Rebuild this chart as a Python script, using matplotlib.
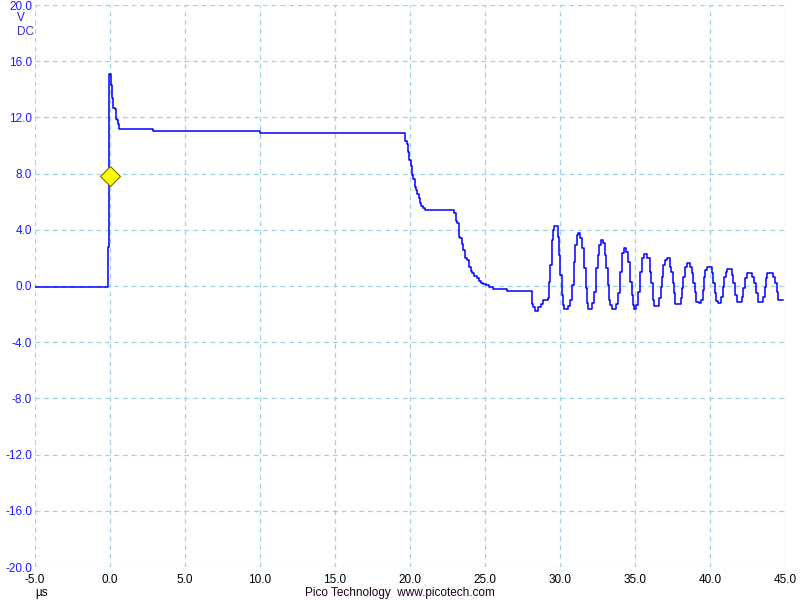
import matplotlib.pyplot as plt
import numpy as np

plt.rcParams['font.family'] = ['Liberation Sans', 'DejaVu Sans']

# trace points (time in us, volts), drawn as steps
t_us = [
    -5.0, -0.13, -0.05, 0.09, 0.15, 0.20, 0.35, 0.38, 0.45, 0.53, 0.58,
    2.87, 10.0, 19.69, 19.78, 19.87, 19.95, 20.05, 20.11, 20.22, 20.31,
    20.40, 20.49, 20.58, 20.67, 20.75, 20.85, 21.02, 22.93, 23.05, 23.15,
    23.25, 23.35, 23.45, 23.55, 23.69, 23.78, 23.91, 24.05, 24.13, 24.27,
    24.45, 24.58, 24.71, 24.89, 25.07, 25.25, 25.55, 26.45, 26.89,
    # ringing
    28.16, 28.22, 28.33, 28.56, 28.73, 28.89, 29.18, 29.27, 29.36, 29.44,
    29.53, 29.62, 29.84, 29.93, 30.02, 30.11, 30.20, 30.29, 30.51, 30.64,
    30.78, 30.91, 31.00, 31.13, 31.22, 31.36, 31.49, 31.62, 31.71, 31.80,
    31.89, 32.16, 32.29, 32.42, 32.51, 32.60, 32.73, 32.87, 33.00, 33.09,
    33.18, 33.27, 33.36, 33.44, 33.71, 33.84, 33.98, 34.11, 34.24, 34.38,
    34.51, 34.64, 34.78, 34.87, 34.96, 35.09, 35.22, 35.36, 35.49, 35.62,
    35.80, 35.98, 36.09, 36.18, 36.29, 36.58, 36.71, 36.80, 36.89, 36.98,
    37.11, 37.33, 37.42, 37.51, 37.60, 37.69, 38.04, 38.13, 38.22, 38.31,
    38.44, 38.67, 38.80, 38.89, 38.98, 39.07, 39.24, 39.42, 39.51, 39.60,
    39.69, 39.82, 40.13, 40.22, 40.31, 40.40, 40.53, 40.76, 40.84, 40.93,
    41.07, 41.16, 41.47, 41.56, 41.69, 41.82, 42.13, 42.22, 42.36, 42.44,
    42.80, 42.93, 43.07, 43.20, 43.51, 43.64, 43.73, 43.82, 44.18, 44.31,
    44.44, 44.53, 44.89,
]
v_volts = [
    -0.05, 2.8, 15.1, 14.3, 13.4, 12.7, 12.6, 11.9, 11.8, 11.5, 11.15,
    11.05, 10.87, 10.3, 10.1, 9.56, 8.97, 8.54, 7.9, 7.6, 7.07,
    6.83, 6.55, 6.24, 5.93, 5.7, 5.53, 5.4, 5.22, 4.65, 4.46,
    3.51, 3.39, 2.99, 2.56, 2.0, 1.85, 1.37, 1.09, 0.95, 0.71,
    0.57, 0.38, 0.23, 0.14, 0.05, -0.09, -0.23, -0.33, -0.38,
    -1.3, -1.5, -1.78, -1.47, -1.3, -1.0, -0.83, 0.31, 1.49, 3.27,
    3.99, 4.29, 3.51, 2.2, 0.78, -0.64, -1.35, -1.64, -1.4, -1.0,
    0.07, 1.73, 2.92, 3.63, 3.75, 3.4, 2.68, 1.26, -0.16, -1.23,
    -1.64, -1.23, -0.4, 1.26, 2.2, 2.92, 3.27, 3.03, 2.2, 1.26,
    0.07, -0.99, -1.35, -1.64, -1.3, -0.52, 1.02, 2.32, 2.73, 2.44,
    1.73, 0.31, -0.64, -1.35, -1.64, -1.35, -0.4, 1.02, 1.97, 2.26,
    1.97, 1.02, 0.19, -1.0, -1.42, -0.88, -0.05, 0.66, 1.5, 1.85,
    1.97, 1.38, 1.02, 0.19, -0.52, -1.28, -0.88, -0.17, 0.66, 1.38,
    1.66, 1.38, 0.9, 0.19, -0.4, -1.12, -1.23, -1.0, -0.28, 0.66,
    1.14, 1.33, 0.9, 0.19, -0.52, -1.04, -1.19, -0.76, -0.05, 0.66,
    1.02, 1.19, 0.78, 0.19, -0.64, -1.12, -0.76, -0.17, 0.54, 0.95,
    0.66, 0.19, -0.52, -1.12, -0.76, -0.05, 0.54, 0.9, 0.66, 0.19,
    -0.4, -0.99, -0.99,
]

trig_t = 0.0
trig_v = 7.8

x_ticks = [-5.0, 0.0, 5.0, 10.0, 15.0, 20.0, 25.0, 30.0, 35.0, 40.0, 45.0]
y_ticks = [-20.0, -16.0, -12.0, -8.0, -4.0, 0.0, 4.0, 8.0, 12.0, 16.0, 20.0]

fig = plt.figure(figsize=(8, 6), dpi=100)
ax = fig.add_axes([35 / 800, 33 / 600, 750 / 800, 562 / 600])
ax.set_xlim(-5, 45)
ax.set_ylim(-20, 20)

# scope style grid: blue dashes with cyan dots in the gaps
for yv in y_ticks:
    ax.axhline(yv, color='#a9cbdc', lw=0.9, ls=(0, (3, 4)), zorder=1)
    ax.axhline(yv, color='#92e6ec', lw=0.9, ls=(4, (1, 6)), zorder=1)
for xv in x_ticks:
    ax.axvline(xv, color='#a9cbdc', lw=0.9, ls=(0, (3, 4)), zorder=1)
    ax.axvline(xv, color='#92e6ec', lw=0.9, ls=(4, (1, 6)), zorder=1)

ax.plot(t_us, v_volts, drawstyle='steps-post', color='#0000ff', lw=1.1, zorder=3)
ax.plot([trig_t], [trig_v], marker='D', ms=10, mfc='#ffff00', mec='#707000',
        mew=0.8, zorder=4, clip_on=False)

for s in ax.spines.values():
    s.set_visible(False)
ax.set_xticks(x_ticks)
ax.set_yticks(y_ticks)
ax.set_xticklabels([f"{v:.1f}" for v in x_ticks], fontsize=8.5, color='black')
ax.set_yticklabels([f"{v:.1f}" for v in y_ticks], fontsize=8.5, color='#1a1aff')
ax.tick_params(axis='x', length=0, pad=5)
ax.tick_params(axis='y', length=0, pad=2)

fig.text(21 / 800, 1 - 18 / 600, "V", ha='center', va='center', fontsize=8.5, color='#1a1aff')
fig.text(26 / 800, 1 - 32 / 600, "DC", ha='center', va='center', fontsize=8.5, color='#3a2ad8')
fig.text(42 / 800, 1 - 593 / 600, "µs", ha='center', va='center', fontsize=8.5, color='black')
fig.text(400 / 800, 1 - 593 / 600, "Pico Technology  www.picotech.com", ha='center',
         va='center', fontsize=8.5, color='#200020')

fig.savefig("out.png", dpi=100)
